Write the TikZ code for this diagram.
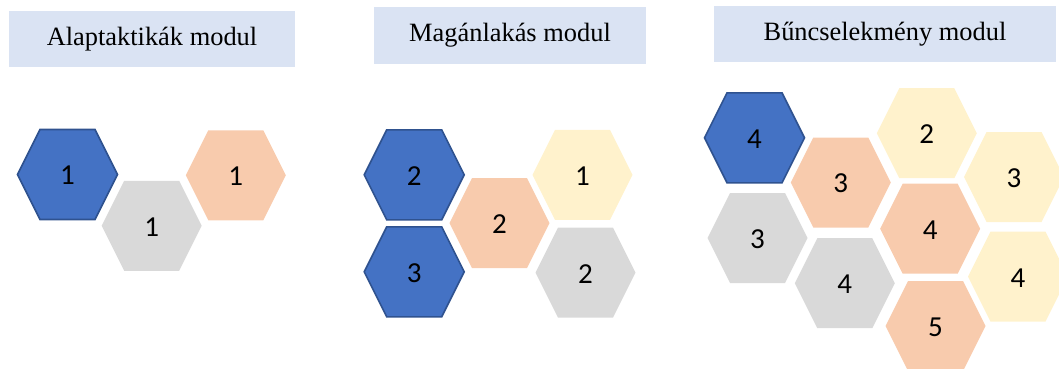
\documentclass[tikz,border=0pt]{standalone}
\usepackage{fontspec}
\setmainfont{Liberation Serif}
\newfontfamily\digitfont{Carlito}
\definecolor{hdrfill}{HTML}{DAE3F3}
\definecolor{bluefill}{HTML}{4472C4}
\definecolor{blueline}{HTML}{2F528F}
\definecolor{grayfill}{HTML}{D9D9D9}
\definecolor{peachfill}{HTML}{F8CBAD}
\definecolor{yellowfill}{HTML}{FFF2CC}
\tikzset{
  header/.style={fill=hdrfill, draw=none, inner sep=0pt, minimum height=#1,
    font=\fontsize{26.4}{30}\selectfont, text=black},
  digit/.style={font=\digitfont\fontsize{29}{32}\selectfont, text=black, inner sep=0pt},
  bluehex/.style={fill=bluefill, draw=blueline, line width=1.6pt, line join=miter},
  grayhex/.style={fill=grayfill},
  peachhex/.style={fill=peachfill},
  yellowhex/.style={fill=yellowfill},
}
\newcommand\hexcell[5]{%
  \begin{scope}[shift={(#2,#3)}]
    \path[#4] (-50,0) -- (-27.5,-45) -- (27.5,-45) -- (50,0) -- (27.5,45) -- (-27.5,45) -- cycle;
    \node[digit] (#1) at (0,1) {#5};
  \end{scope}}
\begin{document}
\begin{tikzpicture}[x=1pt,y=-1pt]
\useasboundingbox (0,0) rectangle (1059,369);
\clip (0,0) rectangle (1059,369);
% headers
\node[header=56pt, minimum width=286pt] (h1) at (152,39) {Alaptaktikák modul};
\node[header=57pt, minimum width=272pt] (h2) at (510,35.5) {Magánlakás modul};
\node[header=56pt, minimum width=342pt] (h3) at (885,34) {Bűncselekmény modul};
% panel 1
\hexcell{b1}{67.5}{174.5}{bluehex}{1}
\hexcell{g1}{151.7}{225.8}{grayhex}{1}
\hexcell{p1}{235.8}{175.3}{peachhex}{1}
% panel 2
\hexcell{b2}{414.2}{174.8}{bluehex}{2}
\hexcell{b3}{414.2}{271.8}{bluehex}{3}
\hexcell{p2}{499.5}{223.2}{peachhex}{2}
\hexcell{y1}{582.5}{174.8}{yellowhex}{1}
\hexcell{g2}{585.5}{272.7}{grayhex}{2}
% panel 3
\hexcell{b4}{754.5}{137.8}{bluehex}{4}
\hexcell{p3}{840.8}{182.5}{peachhex}{3}
\hexcell{y2}{926.8}{133.2}{yellowhex}{2}
\hexcell{y3}{1014}{177}{yellowhex}{3}
\hexcell{g3}{757.5}{238}{grayhex}{3}
\hexcell{g4}{844.8}{283.2}{grayhex}{4}
\hexcell{p4}{930.2}{228.7}{peachhex}{4}
\hexcell{p5}{935.5}{326}{peachhex}{5}
\hexcell{y4}{1018}{276.7}{yellowhex}{4}
\end{tikzpicture}
\end{document}
